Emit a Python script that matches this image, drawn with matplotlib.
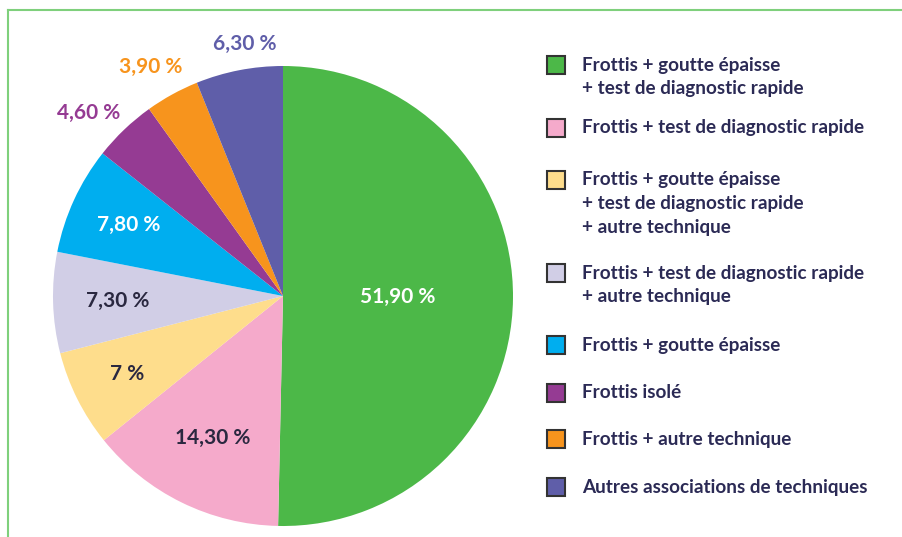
import matplotlib
matplotlib.use("Agg")
import matplotlib.pyplot as plt
from matplotlib.patches import Rectangle
from matplotlib.lines import Line2D
import numpy as np

# ---- data ----
categories = [
    "Frottis + goutte épaisse\n+ test de diagnostic rapide",
    "Frottis + test de diagnostic rapide",
    "Frottis + goutte épaisse\n+ test de diagnostic rapide\n+ autre technique",
    "Frottis + test de diagnostic rapide\n+ autre technique",
    "Frottis + goutte épaisse",
    "Frottis isolé",
    "Frottis + autre technique",
    "Autres associations de techniques",
]
values = [51.9, 14.3, 7.0, 7.3, 7.8, 4.6, 3.9, 6.3]
value_labels = ["51,90 %", "14,30 %", "7 %", "7,30 %", "7,80 %", "4,60 %", "3,90 %", "6,30 %"]
colors = ["#4cb848", "#f5aacb", "#fedd8c", "#d1cee6", "#00aeef", "#953b93", "#f7941d", "#5f5ea9"]

# ---- style ----
FONT = ["Lato", "DejaVu Sans"]
DARK = "#2b2a55"
label_colors = ["white", "#2a2840", "#2a2840", "#2a2840", "white", "#953b93", "#f7941d", "#5f5ea9"]
label_radius = [0.50, 0.69, 0.76, 0.72, 0.74, 1.16, 1.15, 1.11]
label_dang = [0, 0, 0, 0, 0, 3.0, 1.3, -2.4]

W, H = 903, 537
fig = plt.figure(figsize=(W / 100, H / 100), dpi=100)

# frame lines (top and left)
fig.add_artist(Line2D([8 / W, 1], [1 - 10 / H, 1 - 10 / H], transform=fig.transFigure,
                      color="#7fd07c", lw=1.5))
fig.add_artist(Line2D([8 / W, 8 / W], [0, 1 - 10 / H], transform=fig.transFigure,
                      color="#7fd07c", lw=1.5))

# pie axes: centre (283, 296), radius 230 px
cx, cy, r = 283, 296, 230
ax = fig.add_axes([(cx - r) / W, (H - cy - r) / H, 2 * r / W, 2 * r / H])
wedges, _ = ax.pie(values, colors=colors, startangle=90, counterclock=False,
                   radius=1.0, wedgeprops=dict(linewidth=0))
ax.set_xlim(-1, 1)
ax.set_ylim(-1, 1)
ax.set_aspect("equal")
ax.axis("off")

for w, lab, col, rd, da in zip(wedges, value_labels, label_colors, label_radius, label_dang):
    ang = np.deg2rad((w.theta1 + w.theta2) / 2 + da)
    ax.text(rd * np.cos(ang), rd * np.sin(ang), lab, ha="center", va="center",
            color=col, fontsize=15, fontweight="bold", family=FONT, clip_on=False)

# legend
row_y = [65, 128, 180, 273, 345, 393, 439, 487]
line_h = 23.5
sq = 18
for cat, col, y0 in zip(categories, colors, row_y):
    fig.add_artist(Rectangle((547 / W, (H - y0 - sq / 2) / H), sq / W, sq / H,
                             transform=fig.transFigure, facecolor=col,
                             edgecolor="#333333", lw=1.5))
    for i, line in enumerate(cat.split("\n")):
        fig.text(582 / W, (H - (y0 + i * line_h)) / H, line, ha="left", va="center",
                 color=DARK, fontsize=13.6, fontweight="bold", family=FONT)

fig.savefig("out.png", dpi=100)
